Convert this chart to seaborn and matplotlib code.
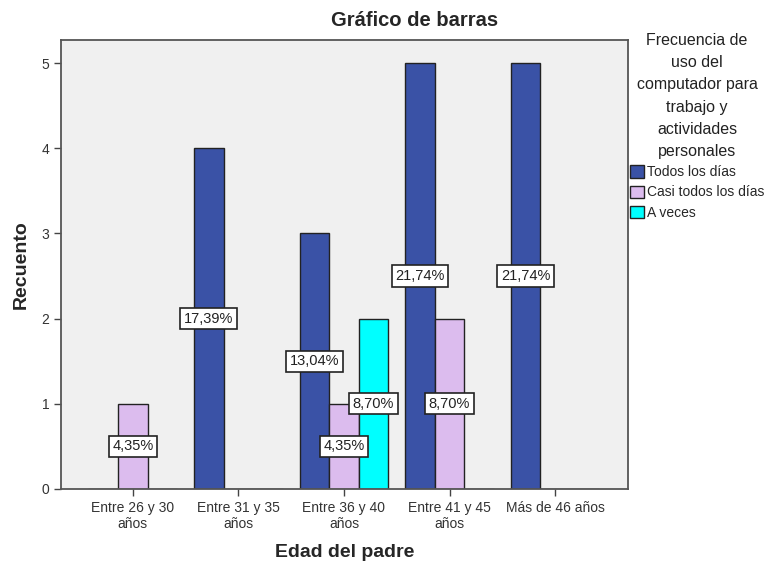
import matplotlib
matplotlib.use("Agg")
import matplotlib.pyplot as plt
import pandas as pd
import seaborn as sns

# Data
categorias = ["Entre 26 y 30\naños", "Entre 31 y 35\naños", "Entre 36 y 40\naños",
              "Entre 41 y 45\naños", "Más de 46 años"]
todos_los_dias = [0, 4, 3, 5, 5]
casi_todos = [1, 0, 1, 2, 0]
a_veces = [0, 0, 2, 0, 0]
series = ["Todos los días", "Casi todos los días", "A veces"]
etiquetas = {
    "Todos los días": ["", "17,39%", "13,04%", "21,74%", "21,74%"],
    "Casi todos los días": ["4,35%", "", "4,35%", "8,70%", ""],
    "A veces": ["", "", "8,70%", "", ""],
}
colores = ["#3a52a6", "#dcbcee", "#00ffff"]

df = pd.DataFrame({
    "edad": categorias * 3,
    "recuento": todos_los_dias + casi_todos + a_veces,
    "frecuencia": [s for s in series for _ in categorias],
})

sns.set_style("white")
plt.rcParams['font.family'] = ['Liberation Sans', 'DejaVu Sans']

fig = plt.figure(figsize=(7.72, 5.63), dpi=100)
ax = fig.add_axes([61 / 772, 74 / 563, 567 / 772, 449 / 563])
ax.set_facecolor("#f0f0f0")

sns.barplot(data=df, x="edad", y="recuento", hue="frecuencia", hue_order=series,
            order=categorias, palette=colores, width=0.84, saturation=1,
            edgecolor="#222222", linewidth=1, ax=ax, legend=False)

# Percentage boxes in the middle of each bar
for cont, s in zip(ax.containers, series):
    ax.bar_label(cont, labels=etiquetas[s], label_type="center", fontsize=10.5,
                 color="#222222",
                 bbox=dict(boxstyle="square,pad=0.25", fc="white", ec="#222222", lw=1.2))

ax.set_ylim(0, 5.27)
ax.set_xlim(-0.68, 4.69)
ax.set_yticks(range(6))
ax.set_xlabel("Edad del padre", fontsize=14, fontweight="bold", labelpad=9)
ax.set_ylabel("Recuento", fontsize=14, fontweight="bold", labelpad=8)
ax.tick_params(axis="both", direction="out", length=5, width=1, color="#444444",
               labelsize=10, labelcolor="#333333", bottom=True, left=True)
for sp in ax.spines.values():
    sp.set_color("#555555")
    sp.set_linewidth(1.3)

fig.text(415 / 772, 1 - 21 / 563, "Gráfico de barras", ha="center", va="center",
         fontsize=14.5, fontweight="bold")

handles = [plt.Rectangle((0, 0), 1, 1, fc=c, ec="#222222", lw=1) for c in colores]
leg = fig.legend(handles, series,
                 title="Frecuencia de\nuso del\ncomputador para\ntrabajo y\nactividades\npersonales",
                 loc="upper left", bbox_to_anchor=(630 / 772, 1 - 33 / 563),
                 frameon=False, fontsize=10, title_fontsize=11.5,
                 handlelength=1.0, handleheight=1.0, handletextpad=0.2,
                 labelspacing=0.45, borderpad=0, borderaxespad=0)
leg.get_title().set_multialignment("center")
leg.get_title().set_linespacing(1.6)
leg.get_title().set_color("#222222")

fig.savefig("out.png", dpi=100)
